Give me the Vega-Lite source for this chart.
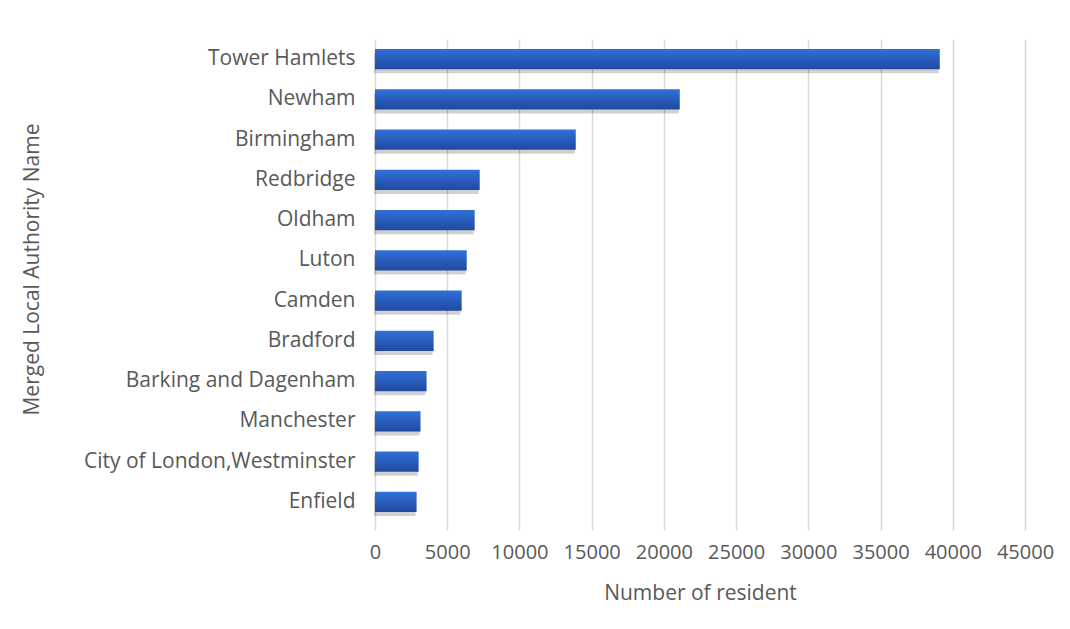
{
  "$schema": "https://vega.github.io/schema/vega-lite/v6.json",
  "width": 650,
  "height": 483,
  "autosize": "none",
  "padding": {"left": 375, "top": 39, "right": 45, "bottom": 107},
  "background": "white",
  "config": {
    "view": {"stroke": null},
    "font": "Open Sans",
    "axis": {"labelColor": "#595959", "titleColor": "#595959", "labelFontSize": 20, "titleFontSize": 21, "labelFont": "Open Sans", "titleFont": "Open Sans", "titleFontWeight": "normal"}
  },
  "data": {
    "values": [
      {"name": "Tower Hamlets", "value": 39100},
      {"name": "Newham", "value": 21100},
      {"name": "Birmingham", "value": 13900},
      {"name": "Redbridge", "value": 7250},
      {"name": "Oldham", "value": 6900},
      {"name": "Luton", "value": 6350},
      {"name": "Camden", "value": 6000},
      {"name": "Bradford", "value": 4060},
      {"name": "Barking and Dagenham", "value": 3570},
      {"name": "Manchester", "value": 3150},
      {"name": "City of London,Westminster", "value": 3020},
      {"name": "Enfield", "value": 2880}
    ]
  },
  "encoding": {
    "y": {
      "field": "name", "type": "nominal", "sort": null,
      "scale": {"paddingInner": 0.5, "paddingOuter": 0.25},
      "axis": {"title": "Merged Local Authority Name", "domain": false, "ticks": false, "grid": false, "labelPadding": 20, "labelLimit": 400, "labelFontSize": 21, "titleX": -343, "titleY": 230, "titleAngle": -90, "titleBaseline": "middle", "titleAlign": "center"}
    },
    "x": {
      "field": "value", "type": "quantitative",
      "scale": {"domain": [0, 45000], "nice": false},
      "axis": {"title": "Number of resident", "values": [0,5000,10000,15000,20000,25000,30000,35000,40000,45000], "format": "d", "labelOverlap": false, "labelFlush": false, "domain": false, "grid": true, "gridColor": "#d9d9d9", "gridWidth": 1.5, "ticks": true, "tickColor": "#d9d9d9", "tickWidth": 1.5, "tickSize": 8, "labelPadding": 12, "titlePadding": 20}
    }
  },
  "layer": [
    {"mark": {"type": "bar", "color": "#000000", "opacity": 0.18, "yOffset": 4, "xOffset": -1}},
    {"mark": {"type": "bar", "color": {"gradient": "linear", "x1": 0, "y1": 0, "x2": 0, "y2": 1, "stops": [{"offset": 0, "color": "#3070D8"}, {"offset": 1, "color": "#2149A0"}]}}}
  ]
}
